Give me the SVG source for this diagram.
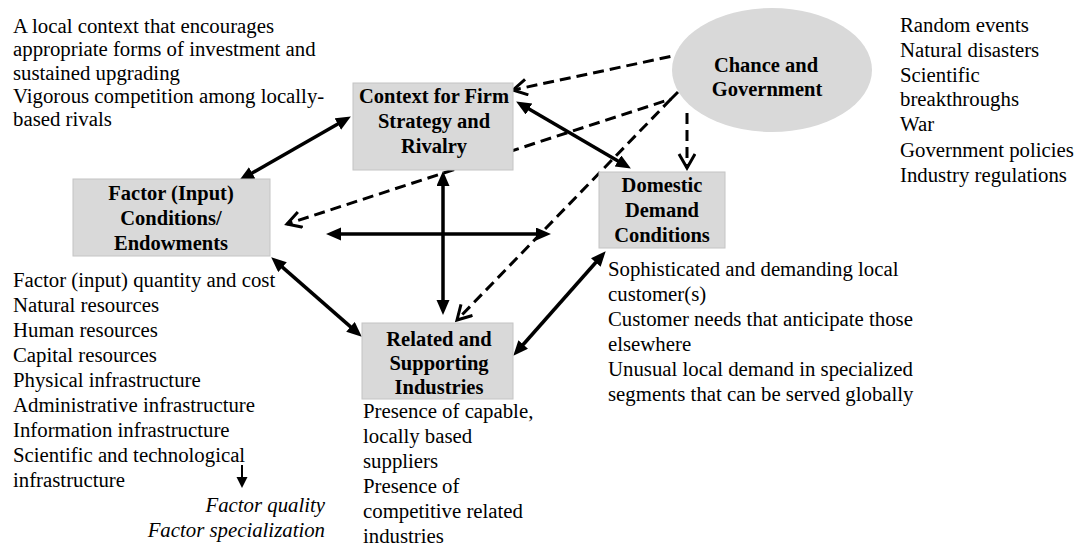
<svg xmlns="http://www.w3.org/2000/svg" width="1081" height="549" viewBox="0 0 1081 549" font-family="'Liberation Serif', 'DejaVu Serif', serif">
<style>
  text { font-family: 'Liberation Serif', 'DejaVu Serif', 'Noto Serif', serif; font-size: 20.8px; fill: #000; }
  .lbl { font-weight: bold; text-anchor: middle; font-size: 20.5px; }
  .it { font-style: italic; text-anchor: end; }
  .box { fill: #d9d9d9; stroke: #c4c4c4; stroke-width: 1; }
  .solid { fill: none; stroke: #000; stroke-width: 3.5; marker-start: url(#fh); marker-end: url(#fh); }
  .dash { fill: none; stroke: #000; stroke-width: 3; stroke-dasharray: 11 6; marker-end: url(#oh); }
</style>
<defs>
  <marker id="fh" markerUnits="userSpaceOnUse" markerWidth="16" markerHeight="14" refX="4" refY="6.5" orient="auto-start-reverse">
    <path d="M0,0 L15,6.5 L0,13 z" fill="#000"/>
  </marker>
  <marker id="sm" markerUnits="userSpaceOnUse" markerWidth="14" markerHeight="12" refX="2" refY="5.5" orient="auto">
    <path d="M0,0 L11,5.5 L0,11 z" fill="#000"/>
  </marker>
  <marker id="oh" markerUnits="userSpaceOnUse" markerWidth="20" markerHeight="20" refX="15" refY="9" orient="auto">
    <path d="M1,1 L15,9 L1,17" fill="none" stroke="#000" stroke-width="3"/>
  </marker>
</defs>

<g id="connectors">
  <line class="solid" x1="341.3" y1="122" x2="248.7" y2="175"/>
  <line class="solid" x1="525.6" y1="107" x2="621.4" y2="163"/>
  <line class="solid" x1="337" y1="234" x2="540" y2="234"/>
  <line class="solid" x1="443" y1="182" x2="443" y2="304"/>
  <line class="solid" x1="279.5" y1="264.6" x2="353.5" y2="329.4"/>
  <line class="solid" x1="598.4" y1="259.5" x2="520.6" y2="347.5"/>
  <line class="dash" x1="687" y1="53" x2="513" y2="90"/>
  <polyline class="dash" points="678,92 671,99 287,224"/>
  <line class="dash" x1="671" y1="99" x2="457" y2="320"/>
  <line class="dash" x1="687" y1="113" x2="687" y2="168"/>
  <line x1="242" y1="465" x2="242" y2="479" stroke="#000" stroke-width="2" marker-end="url(#sm)"/>
</g>

<g id="chance">
  <ellipse cx="772" cy="70" rx="100" ry="62" fill="#d9d9d9"/>
  <text class="lbl" x="766" y="72">Chance and</text>
  <text class="lbl" x="767" y="96">Government</text>
</g>

<g id="context">
  <rect class="box" x="353" y="83" width="160" height="87"/>
  <text class="lbl" x="434" y="103">Context for Firm</text>
  <text class="lbl" x="434" y="128">Strategy and</text>
  <text class="lbl" x="434" y="153">Rivalry</text>
</g>

<g id="factor">
  <rect class="box" x="73" y="179" width="197" height="77"/>
  <text class="lbl" x="171" y="200">Factor (Input)</text>
  <text class="lbl" x="171" y="225">Conditions/</text>
  <text class="lbl" x="171" y="250">Endowments</text>
</g>

<g id="domestic">
  <rect class="box" x="599" y="172" width="126" height="76"/>
  <text class="lbl" x="662" y="192">Domestic</text>
  <text class="lbl" x="662" y="217">Demand</text>
  <text class="lbl" x="662" y="242">Conditions</text>
</g>

<g id="related">
  <rect class="box" x="362" y="323" width="151" height="76"/>
  <text class="lbl" x="439" y="346">Related and</text>
  <text class="lbl" x="439" y="370">Supporting</text>
  <text class="lbl" x="439" y="394">Industries</text>
</g>

<g id="context-notes">
  <text x="13" y="33">A local context that encourages</text>
  <text x="13" y="56">appropriate forms of investment and</text>
  <text x="13" y="80">sustained upgrading</text>
  <text x="13" y="103">Vigorous competition among locally-</text>
  <text x="13" y="126">based rivals</text>
</g>

<g id="chance-notes">
  <text x="900" y="32">Random events</text>
  <text x="900" y="57">Natural disasters</text>
  <text x="900" y="82">Scientific</text>
  <text x="900" y="106">breakthroughs</text>
  <text x="900" y="131">War</text>
  <text x="900" y="157">Government policies</text>
  <text x="900" y="182">Industry regulations</text>
</g>

<g id="factor-notes">
  <text x="13" y="287">Factor (input) quantity and cost</text>
  <text x="13" y="312">Natural resources</text>
  <text x="13" y="337">Human resources</text>
  <text x="13" y="362">Capital resources</text>
  <text x="13" y="387">Physical infrastructure</text>
  <text x="13" y="412">Administrative infrastructure</text>
  <text x="13" y="437">Information infrastructure</text>
  <text x="13" y="462">Scientific and technological</text>
  <text x="13" y="487">infrastructure</text>
  <text class="it" x="325" y="512">Factor quality</text>
  <text class="it" x="325" y="537">Factor specialization</text>
</g>

<g id="demand-notes">
  <text x="608" y="276">Sophisticated and demanding local</text>
  <text x="608" y="301">customer(s)</text>
  <text x="608" y="326">Customer needs that anticipate those</text>
  <text x="608" y="351">elsewhere</text>
  <text x="608" y="376">Unusual local demand in specialized</text>
  <text x="608" y="401">segments that can be served globally</text>
</g>

<g id="related-notes">
  <text x="363" y="418">Presence of capable,</text>
  <text x="363" y="443">locally based</text>
  <text x="363" y="468">suppliers</text>
  <text x="363" y="493">Presence of</text>
  <text x="363" y="518">competitive related</text>
  <text x="363" y="543">industries</text>
</g>
</svg>
